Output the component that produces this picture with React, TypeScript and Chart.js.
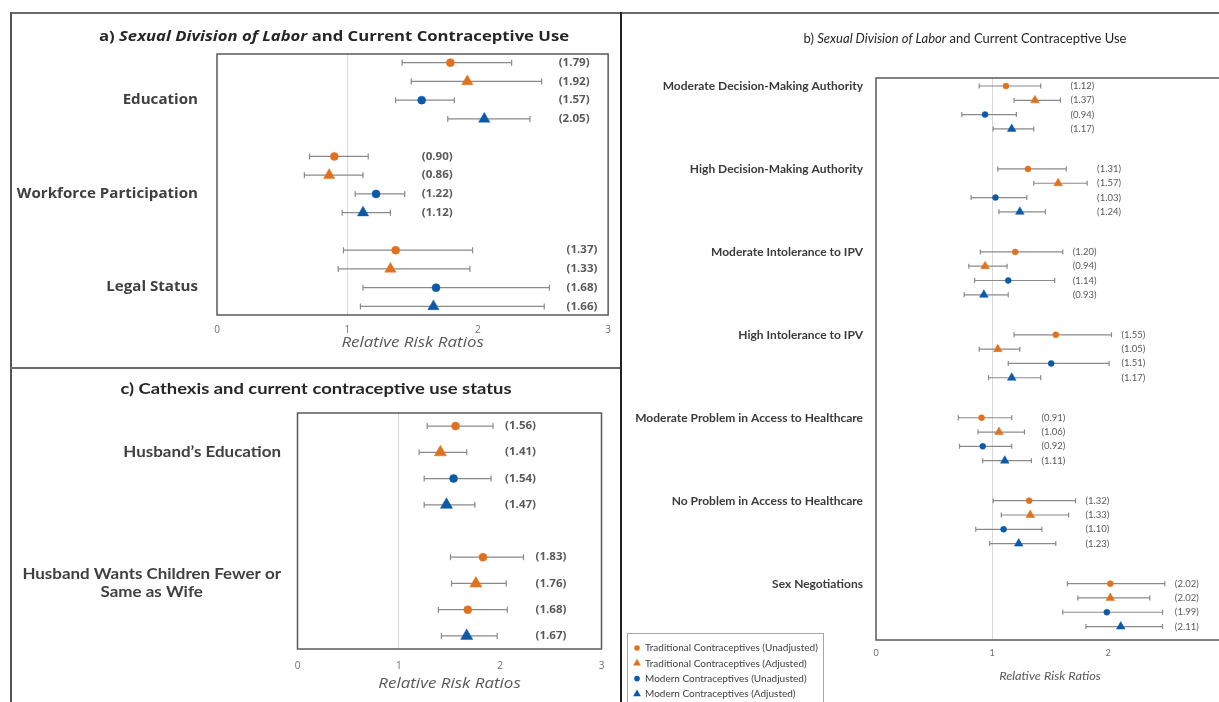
import React, { useEffect, useRef } from "react";
import { Chart, registerables } from "chart.js";
Chart.register(...registerables);

// ---------- DATA ----------
const seriesLabels = [
  "Traditional Contraceptives (Unadjusted)",
  "Traditional Contraceptives (Adjusted)",
  "Modern Contraceptives (Unadjusted)",
  "Modern Contraceptives (Adjusted)",
];
const xTickMin = 0;
const xTickMax = 3;
const axisTitleText = "Relative Risk Ratios";

// Panel a
const aCategories = [["Education"], ["Workforce Participation"], ["Legal Status"]];
const aRR = [
  [1.79, 1.92, 1.57, 2.05],
  [0.9, 0.86, 1.22, 1.12],
  [1.37, 1.33, 1.68, 1.66],
];
const aLower = [
  [1.42, 1.49, 1.37, 1.77],
  [0.71, 0.67, 1.06, 0.96],
  [0.97, 0.93, 1.12, 1.1],
];
const aUpper = [
  [2.26, 2.49, 1.82, 2.4],
  [1.16, 1.12, 1.44, 1.33],
  [1.96, 1.94, 2.55, 2.51],
];

// Panel b
const bCategories = [
  ["Moderate Decision-Making Authority"],
  ["High Decision-Making Authority"],
  ["Moderate Intolerance to IPV"],
  ["High Intolerance to IPV"],
  ["Moderate Problem in Access to Healthcare"],
  ["No Problem in Access to Healthcare"],
  ["Sex Negotiations"],
];
const bRR = [
  [1.12, 1.37, 0.94, 1.17],
  [1.31, 1.57, 1.03, 1.24],
  [1.2, 0.94, 1.14, 0.93],
  [1.55, 1.05, 1.51, 1.17],
  [0.91, 1.06, 0.92, 1.11],
  [1.32, 1.33, 1.1, 1.23],
  [2.02, 2.02, 1.99, 2.11],
];
const bLower = [
  [0.89, 1.19, 0.74, 1.01],
  [1.05, 1.36, 0.82, 1.06],
  [0.9, 0.8, 0.85, 0.76],
  [1.19, 0.89, 1.14, 0.97],
  [0.71, 0.88, 0.72, 0.92],
  [1.01, 1.08, 0.86, 0.98],
  [1.65, 1.74, 1.61, 1.81],
];
const bUpper = [
  [1.42, 1.59, 1.21, 1.36],
  [1.64, 1.82, 1.3, 1.46],
  [1.61, 1.13, 1.54, 1.14],
  [2.03, 1.24, 2.01, 1.42],
  [1.17, 1.28, 1.17, 1.34],
  [1.72, 1.66, 1.43, 1.55],
  [2.49, 2.36, 2.47, 2.47],
];

// Panel c
const cCategories = [["Husband\u2019s Education"], ["Husband Wants Children Fewer or", "Same as Wife"]];
const cRR = [
  [1.56, 1.41, 1.54, 1.47],
  [1.83, 1.76, 1.68, 1.67],
];
const cLower = [
  [1.28, 1.2, 1.25, 1.25],
  [1.51, 1.52, 1.39, 1.42],
];
const cUpper = [
  [1.93, 1.67, 1.91, 1.75],
  [2.23, 2.06, 2.07, 1.97],
];

// ---------- STYLE ----------
const ORANGE = "#E2711D";
const BLUE = "#0B5AA8";
const seriesColors = [ORANGE, ORANGE, BLUE, BLUE];
const seriesShapes = ["circle", "triangle", "circle", "triangle"];
const OPEN = "'Open Sans', sans-serif";
const LATO = "Lato, sans-serif";

type Seg = { text: string; italic?: boolean };
type PanelCfg = {
  left: number; top: number; width: number; height: number;
  padLeft: number; padRight: number; padTop: number; axisHeight: number;
  yMin: number; yMax: number; groupStep: number; labelRow: number;
  categories: string[][]; rr: number[][]; lower: number[][]; upper: number[][];
  tickFamily: string; tickSize: number; tickPad: number;
  axisTitleFont: string; axisTitleY: number; axisTitleSx: number;
  catFont: string; catColor: string; catRight: number; catLineHeight: number; catSx: number;
  valFont: string; valColor: string; valOffset: number; valSx: number;
  circleR: number; triR: number; capH: number;
  title: Seg[]; titleFamily: string; titleSize: number; titleWeight: string; titleColor: string;
  titleX: number; titleY: number; titleSx: number;
  override?: { group: number; series: number; color: string };
  legend?: { x: number; y: number; w: number; itemY: number; step: number; markerX: number; textX: number; font: string };
};

const panelA: PanelCfg = {
  left: 12, top: 14, width: 608, height: 353,
  padLeft: 205, padRight: 11, padTop: 40, axisHeight: 52,
  yMin: -0.46, yMax: 13.46, groupStep: 5, labelRow: 2,
  categories: aCategories, rr: aRR, lower: aLower, upper: aUpper,
  tickFamily: OPEN, tickSize: 10, tickPad: 9,
  axisTitleFont: `italic 14px ${OPEN}`, axisTitleY: 329, axisTitleSx: 1.21,
  catFont: `bold 13.5px ${OPEN}`, catColor: "#404040", catRight: 186, catLineHeight: 18, catSx: 1.12,
  valFont: `bold 11px ${OPEN}`, valColor: "#595959", valOffset: 17, valSx: 1.05,
  circleR: 4, triR: 6.5, capH: 3,
  title: [{ text: "a) " }, { text: "Sexual Division of Labor", italic: true }, { text: " and Current Contraceptive Use" }],
  titleFamily: OPEN, titleSize: 14, titleWeight: "bold", titleColor: "#262626",
  titleX: 322, titleY: 23, titleSx: 1.19,
};

const panelC: PanelCfg = {
  left: 12, top: 369, width: 608, height: 333,
  padLeft: 285.5, padRight: 18.5, padTop: 44, axisHeight: 53,
  yMin: -0.5, yMax: 8.5, groupStep: 5, labelRow: 1,
  categories: cCategories, rr: cRR, lower: cLower, upper: cUpper,
  tickFamily: OPEN, tickSize: 10, tickPad: 11,
  axisTitleFont: `italic 14px ${OPEN}`, axisTitleY: 315, axisTitleSx: 1.21,
  catFont: `bold 15px ${LATO}`, catColor: "#404040", catRight: 269, catLineHeight: 18, catSx: 1.13,
  valFont: `bold 11px ${OPEN}`, valColor: "#595959", valOffset: 12, valSx: 1.05,
  circleR: 4, triR: 7, capH: 3,
  title: [{ text: "c) Cathexis and current contraceptive use status" }],
  titleFamily: LATO, titleSize: 16, titleWeight: "bold", titleColor: "#262626",
  titleX: 304, titleY: 20, titleSx: 1.15,
  override: { group: 1, series: 2, color: ORANGE },
};

const panelB: PanelCfg = {
  left: 623, top: 14, width: 700, height: 688,
  padLeft: 253, padRight: 99, padTop: 64, axisHeight: 62,
  yMin: -0.56, yMax: 38.74, groupStep: 5.8, labelRow: 0,
  categories: bCategories, rr: bRR, lower: bLower, upper: bUpper,
  tickFamily: LATO, tickSize: 9, tickPad: 7.5,
  axisTitleFont: `italic 12px ${LATO}`, axisTitleY: 662, axisTitleSx: 1.06,
  catFont: `bold 12px ${LATO}`, catColor: "#3a3a3a", catRight: 240, catLineHeight: 14, catSx: 1,
  valFont: `9.5px ${LATO}`, valColor: "#595959", valOffset: 10, valSx: 1,
  circleR: 3, triR: 5, capH: 2.5,
  title: [{ text: "b) " }, { text: "Sexual Division of Labor", italic: true }, { text: " and Current Contraceptive Use" }],
  titleFamily: LATO, titleSize: 13, titleWeight: "normal", titleColor: "#262626",
  titleX: 342, titleY: 25, titleSx: 1,
  legend: { x: 4, y: 619, w: 196, itemY: 634, step: 15.3, markerX: 14, textX: 22, font: `10px ${LATO}` },
};

function drawMarker(ctx: CanvasRenderingContext2D, shape: string, x: number, y: number, r: number, color: string) {
  ctx.fillStyle = color;
  ctx.beginPath();
  if (shape === "circle") {
    ctx.arc(x, y, r, 0, Math.PI * 2);
  } else {
    ctx.moveTo(x, y - r);
    ctx.lineTo(x + r * 0.866, y + r * 0.5);
    ctx.lineTo(x - r * 0.866, y + r * 0.5);
    ctx.closePath();
  }
  ctx.fill();
}

function stretchedText(ctx: CanvasRenderingContext2D, text: string, x: number, y: number, sx: number) {
  ctx.save();
  ctx.translate(x, y);
  ctx.scale(sx, 1);
  ctx.fillText(text, 0, 0);
  ctx.restore();
}

function makeChart(canvas: HTMLCanvasElement, cfg: PanelCfg) {
  const colorFor = (g: number, s: number) =>
    cfg.override && cfg.override.group === g && cfg.override.series === s ? cfg.override.color : seriesColors[s];

  const datasets = seriesLabels.map((label, s) => ({
    label,
    data: cfg.rr.map((row, g) => ({ x: row[s], y: g * cfg.groupStep + s })),
    pointStyle: seriesShapes[s],
    pointRadius: seriesShapes[s] === "circle" ? cfg.circleR : cfg.triR,
    pointBackgroundColor: (c: any) => colorFor(c.dataIndex, s),
    pointBorderColor: (c: any) => colorFor(c.dataIndex, s),
    pointBorderWidth: 0.5,
    showLine: false,
  }));

  const plugin = {
    id: "forest",
    beforeDatasetsDraw(chart: any) {
      const ctx = chart.ctx as CanvasRenderingContext2D;
      const xs = chart.scales.x;
      const ys = chart.scales.y;
      ctx.save();
      ctx.strokeStyle = "#8a8a8a";
      ctx.lineWidth = 1.2;
      cfg.rr.forEach((row, g) =>
        row.forEach((_v, s) => {
          const y = ys.getPixelForValue(g * cfg.groupStep + s);
          const x1 = xs.getPixelForValue(cfg.lower[g][s]);
          const x2 = xs.getPixelForValue(cfg.upper[g][s]);
          ctx.beginPath();
          ctx.moveTo(x1, y);
          ctx.lineTo(x2, y);
          ctx.moveTo(x1, y - cfg.capH);
          ctx.lineTo(x1, y + cfg.capH);
          ctx.moveTo(x2, y - cfg.capH);
          ctx.lineTo(x2, y + cfg.capH);
          ctx.stroke();
        })
      );
      ctx.restore();
    },
    afterDatasetsDraw(chart: any) {
      const ctx = chart.ctx as CanvasRenderingContext2D;
      const xs = chart.scales.x;
      const ys = chart.scales.y;
      ctx.save();
      ctx.font = cfg.valFont;
      ctx.fillStyle = cfg.valColor;
      ctx.textAlign = "left";
      ctx.textBaseline = "middle";
      cfg.rr.forEach((row, g) => {
        const lx = xs.getPixelForValue(Math.max(...cfg.upper[g])) + cfg.valOffset;
        row.forEach((v, s) => {
          const y = ys.getPixelForValue(g * cfg.groupStep + s);
          stretchedText(ctx, `(${v.toFixed(2)})`, lx, y, cfg.valSx);
        });
      });
      ctx.restore();
    },
    afterDraw(chart: any) {
      const ctx = chart.ctx as CanvasRenderingContext2D;
      const ys = chart.scales.y;
      const area = chart.chartArea;
      ctx.save();
      // plot frame
      ctx.strokeStyle = "#5a5a5a";
      ctx.lineWidth = 1.5;
      ctx.strokeRect(area.left, area.top, area.right - area.left, area.bottom - area.top);
      // axis title
      ctx.font = cfg.axisTitleFont;
      ctx.fillStyle = "#595959";
      ctx.textAlign = "center";
      ctx.textBaseline = "middle";
      stretchedText(ctx, axisTitleText, (area.left + area.right) / 2, cfg.axisTitleY, cfg.axisTitleSx);
      // category labels
      ctx.font = cfg.catFont;
      ctx.fillStyle = cfg.catColor;
      ctx.textAlign = "center";
      ctx.textBaseline = "middle";
      cfg.categories.forEach((lines, g) => {
        const yc = ys.getPixelForValue(g * cfg.groupStep + cfg.labelRow);
        const bw = Math.max(...lines.map((l) => ctx.measureText(l).width)) * cfg.catSx;
        const cx = cfg.catRight - bw / 2;
        lines.forEach((l, i) => {
          stretchedText(ctx, l, cx, yc + (i - (lines.length - 1) / 2) * cfg.catLineHeight, cfg.catSx);
        });
      });
      // title
      const f = (seg: Seg) =>
        `${seg.italic ? "italic " : ""}${cfg.titleWeight} ${cfg.titleSize}px ${cfg.titleFamily}`;
      let total = 0;
      cfg.title.forEach((seg) => {
        ctx.font = f(seg);
        total += ctx.measureText(seg.text).width;
      });
      ctx.save();
      ctx.translate(cfg.titleX - (total * cfg.titleSx) / 2, cfg.titleY);
      ctx.scale(cfg.titleSx, 1);
      ctx.fillStyle = cfg.titleColor;
      ctx.textAlign = "left";
      let tx = 0;
      cfg.title.forEach((seg) => {
        ctx.font = f(seg);
        ctx.fillText(seg.text, tx, 0);
        tx += ctx.measureText(seg.text).width;
      });
      ctx.restore();
      // legend
      if (cfg.legend) {
        const L = cfg.legend;
        ctx.strokeStyle = "#a6a6a6";
        ctx.lineWidth = 1;
        ctx.strokeRect(L.x + 0.5, L.y + 0.5, L.w, 200);
        ctx.font = L.font;
        ctx.textAlign = "left";
        ctx.textBaseline = "middle";
        seriesLabels.forEach((label, s) => {
          const y = L.itemY + s * L.step;
          drawMarker(ctx, seriesShapes[s], L.markerX, y, seriesShapes[s] === "circle" ? 2.8 : 4.5, seriesColors[s]);
          ctx.fillStyle = "#404040";
          ctx.fillText(label, L.textX, y);
        });
      }
      ctx.restore();
    },
  };

  return new Chart(canvas, {
    type: "scatter",
    data: { datasets: datasets as any },
    options: {
      animation: false,
      responsive: false,
      maintainAspectRatio: false,
      layout: { padding: { left: cfg.padLeft, right: cfg.padRight, top: cfg.padTop, bottom: 0 } },
      plugins: { legend: { display: false }, tooltip: { enabled: false }, title: { display: false } },
      scales: {
        x: {
          type: "linear",
          position: "bottom",
          min: xTickMin,
          max: xTickMax,
          ticks: {
            stepSize: 1,
            padding: cfg.tickPad,
            color: "#6f6f6f",
            font: { family: cfg.tickFamily, size: cfg.tickSize },
            callback: (v: any) => String(v),
          },
          grid: {
            drawTicks: false,
            lineWidth: 1,
            color: (c: any) => (c.tick && c.tick.value === 1 ? "#d9d9d9" : "rgba(0,0,0,0)"),
          },
          border: { display: false },
          title: { display: false },
          afterFit: (s: any) => {
            s.height = cfg.axisHeight;
          },
        },
        y: { type: "linear", display: false, reverse: true, min: cfg.yMin, max: cfg.yMax },
      },
    } as any,
    plugins: [plugin],
  });
}

function Panel({ cfg }: { cfg: PanelCfg }) {
  const ref = useRef<HTMLCanvasElement>(null);
  useEffect(() => {
    const chart = makeChart(ref.current as HTMLCanvasElement, cfg);
    return () => chart.destroy();
  }, [cfg]);
  return (
    <canvas
      ref={ref}
      width={cfg.width}
      height={cfg.height}
      style={{ position: "absolute", left: cfg.left, top: cfg.top, width: cfg.width, height: cfg.height }}
    />
  );
}

export default function App() {
  return (
    <div
      style={{
        position: "absolute",
        left: 0,
        top: 0,
        width: 1219,
        height: 702,
        overflow: "hidden",
        background: "#ffffff",
      }}
    >
      <Panel cfg={panelA} />
      <Panel cfg={panelC} />
      <Panel cfg={panelB} />
      {/* panel borders */}
      <div style={{ position: "absolute", left: 10, top: 12, width: 1209, height: 2, background: "#6b6b6b" }} />
      <div style={{ position: "absolute", left: 10, top: 12, width: 2, height: 690, background: "#555" }} />
      <div style={{ position: "absolute", left: 10, top: 367, width: 612, height: 2, background: "#6b6b6b" }} />
      <div style={{ position: "absolute", left: 620, top: 12, width: 2, height: 690, background: "#222" }} />
    </div>
  );
}
